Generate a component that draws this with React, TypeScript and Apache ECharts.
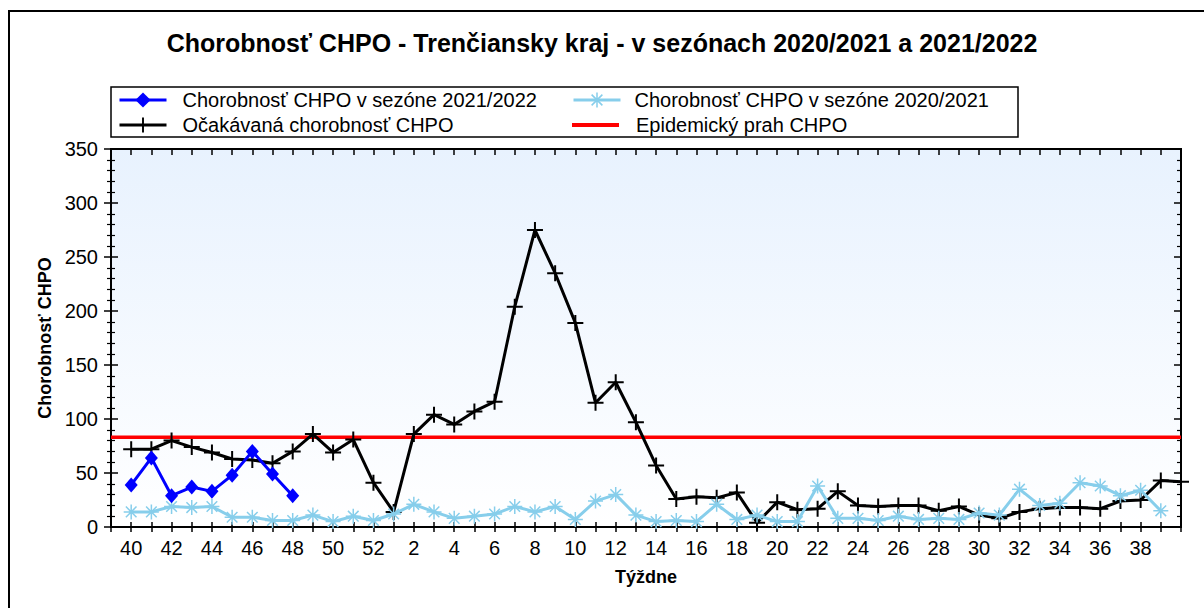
import React, { useEffect, useRef } from 'react';
import * as echarts from 'echarts';

const weeks = [40, 41, 42, 43, 44, 45, 46, 47, 48, 49, 50, 51, 52, 1, 2, 3, 4, 5, 6, 7, 8, 9, 10, 11, 12, 13, 14, 15, 16, 17, 18, 19, 20, 21, 22, 23, 24, 25, 26, 27, 28, 29, 30, 31, 32, 33, 34, 35, 36, 37, 38, 39, 40];
const incidence2122 = [39, 64, 29, 37, 33, 48, 70, 49, 29];
const incidence2021 = [14, 14, 19, 18, 19, 9, 9, 6, 6, 11, 5, 10, 6, 12, 21, 14, 8, 10, 12, 19, 14, 19, 7, 24, 30, 11, 5, 6, 5, 21, 7, 11, 5, 5, 38, 8, 8, 6, 10, 7, 8, 7, 13, 11, 35, 20, 22, 41, 38, 29, 34, 15];
const expected = [72, 72, 80, 74, 69, 63, 62, 59, 70, 86, 69, 81, 41, 14, 86, 104, 95, 107, 116, 204, 275, 235, 189, 115, 134, 97, 57, 26, 28, 27, 32, 4, 23, 16, 17, 33, 20, 19, 20, 20, 15, 19, 11, 8, 14, 17, 18, 18, 17, 24, 25, 43, 42];
const threshold = 83;
const yMin = 0;
const yMax = 350;
const yStep = 50;

const seriesNames = [
  'Chorobnosť CHPO v sezóne 2021/2022',
  'Chorobnosť CHPO v sezóne 2020/2021',
  'Očakávaná chorobnosť CHPO',
  'Epidemický prah CHPO',
];
const titleText = 'Chorobnosť CHPO - Trenčiansky kraj - v sezónach 2020/2021 a 2021/2022';

const FONT = 'Arial, "Liberation Sans", sans-serif';
const plusPath = 'path://M-8,-1L-1,-1L-1,-8L1,-8L1,-1L8,-1L8,1L1,1L1,8L-1,8L-1,1L-8,1Z';
const starPath = 'path://M-0.7,-7L0.7,-7L0.7,7L-0.7,7Z M-7,-0.7L7,-0.7L7,0.7L-7,0.7Z M-4.455,-5.445L5.445,4.455L4.455,5.445L-5.445,-4.455Z M-5.445,4.455L4.455,-5.445L5.445,-4.455L-4.455,5.445Z';
const barIcon = 'path://M0,0L47,0L47,4L0,4Z';

export default function App() {
  const ref = useRef<HTMLDivElement>(null);
  useEffect(() => {
    const chart = echarts.init(ref.current!, null, { renderer: 'svg' });
    const xMin = -1;
    const xMax = weeks.length - 1;
    const xLabel = (v: number) => {
      const i = Math.round(v);
      if (i < 0 || i >= weeks.length - 1) return '';
      const w = weeks[i];
      return w % 2 === 0 ? String(w) : '';
    };
    const baseX = {
      type: 'value',
      min: xMin,
      max: xMax,
      interval: 1,
      splitLine: { show: false },
      axisLine: { show: true, onZero: false, lineStyle: { color: '#000', width: 2 } },
      axisTick: { show: true, lineStyle: { color: '#000', width: 1.5 } },
    };
    const baseY = {
      type: 'value',
      min: yMin,
      max: yMax,
      interval: yStep,
      splitLine: { show: false },
      axisLine: { show: true, onZero: false, lineStyle: { color: '#000', width: 2 } },
      axisTick: { show: true, lineStyle: { color: '#000', width: 1.5 } },
      minorTick: { show: true, splitNumber: 5, lineStyle: { color: '#000', width: 1.2 } },
    };
    const legendBase = {
      orient: 'horizontal',
      padding: 0,
      itemWidth: 47,
      itemHeight: 19,
      selectedMode: false,
      lineStyle: { width: 3 },
      textStyle: { fontFamily: FONT, fontSize: 20, color: '#000', padding: [0, 0, 0, 11] },
    };
    const option: any = {
      animation: false,
      backgroundColor: '#fff',
      title: {
        text: titleText,
        left: 'center',
        top: 30,
        padding: 0,
        textStyle: { fontFamily: FONT, fontSize: 25, fontWeight: 'bold', color: '#000' },
      },
      legend: [
        { ...legendBase, data: [seriesNames[0]], left: 118, top: 90 },
        { ...legendBase, data: [seriesNames[1]], left: 572, top: 90, textStyle: { ...legendBase.textStyle, padding: [0, 0, 0, 9] } },
        { ...legendBase, data: [seriesNames[2]], left: 118, top: 115 },
        { ...legendBase, data: [{ name: seriesNames[3], icon: barIcon }], left: 572, top: 115, textStyle: { ...legendBase.textStyle, padding: [0, 0, 0, 12] } },
      ],
      graphic: [
        { type: 'rect', shape: { x: 9, y: 11, width: 1300, height: 700 }, style: { fill: 'none', stroke: '#000', lineWidth: 2 }, silent: true },
        { type: 'rect', shape: { x: 111, y: 87, width: 907, height: 50 }, style: { fill: 'none', stroke: '#000', lineWidth: 1.5 }, silent: true },
      ],
      grid: {
        left: 111,
        top: 149,
        width: 1070,
        height: 378,
        show: true,
        borderColor: '#000',
        borderWidth: 2,
        backgroundColor: new echarts.graphic.LinearGradient(0, 0, 0, 1, [
          { offset: 0, color: '#e8f2fe' },
          { offset: 1, color: '#ffffff' },
        ]),
      },
      xAxis: [
        {
          ...baseX,
          position: 'bottom',
          axisTick: { ...baseX.axisTick, length: 5 },
          axisLabel: { formatter: xLabel, margin: 11, fontFamily: FONT, fontSize: 20, color: '#000' },
          name: 'Týždne',
          nameLocation: 'middle',
          nameGap: 41,
          nameTextStyle: { fontFamily: FONT, fontSize: 18, fontWeight: 'bold', color: '#000' },
        },
        { ...baseX, position: 'bottom', axisTick: { ...baseX.axisTick, inside: true, length: 5 }, axisLabel: { show: false } },
        { ...baseX, position: 'top', axisTick: { ...baseX.axisTick, inside: true, length: 6 }, axisLabel: { show: false } },
      ],
      yAxis: [
        {
          ...baseY,
          position: 'left',
          axisTick: { ...baseY.axisTick, length: 7 },
          minorTick: { ...baseY.minorTick, length: 4 },
          axisLabel: { margin: 13, fontFamily: FONT, fontSize: 20, color: '#000' },
          name: 'Chorobnosť CHPO',
          nameLocation: 'middle',
          nameGap: 52,
          nameTextStyle: { fontFamily: FONT, fontSize: 18, fontWeight: 'bold', color: '#000' },
        },
        { ...baseY, position: 'left', axisTick: { ...baseY.axisTick, inside: true, length: 7 }, minorTick: { ...baseY.minorTick, length: 4 }, axisLabel: { show: false } },
        { ...baseY, position: 'right', axisTick: { ...baseY.axisTick, inside: true, length: 7 }, minorTick: { ...baseY.minorTick, length: 4 }, axisLabel: { show: false } },
      ],
      series: [
        {
          name: seriesNames[3],
          type: 'line',
          z: 2,
          symbol: 'none',
          lineStyle: { color: '#ff0000', width: 3.5 },
          itemStyle: { color: '#ff0000' },
          data: [[xMin, threshold], [xMax, threshold]],
        },
        {
          name: seriesNames[2],
          type: 'line',
          z: 3,
          symbol: plusPath,
          symbolSize: 16,
          lineStyle: { color: '#000', width: 3 },
          itemStyle: { color: '#000' },
          data: expected.map((v, i) => [i, v]),
        },
        {
          name: seriesNames[1],
          type: 'line',
          z: 4,
          symbol: starPath,
          symbolSize: 15,
          lineStyle: { color: '#87ceeb', width: 3 },
          itemStyle: { color: '#87ceeb' },
          data: incidence2021.map((v, i) => [i, v]),
        },
        {
          name: seriesNames[0],
          type: 'line',
          z: 5,
          symbol: 'diamond',
          symbolSize: [13, 15],
          lineStyle: { color: '#0000ff', width: 3 },
          itemStyle: { color: '#0000ff' },
          data: incidence2122.map((v, i) => [i, v]),
        },
      ],
    };
    chart.setOption(option);
    return () => chart.dispose();
  }, []);
  return <div ref={ref} style={{ position: 'fixed', left: 0, top: 0, width: 1204, height: 608, background: '#fff' }} />;
}
